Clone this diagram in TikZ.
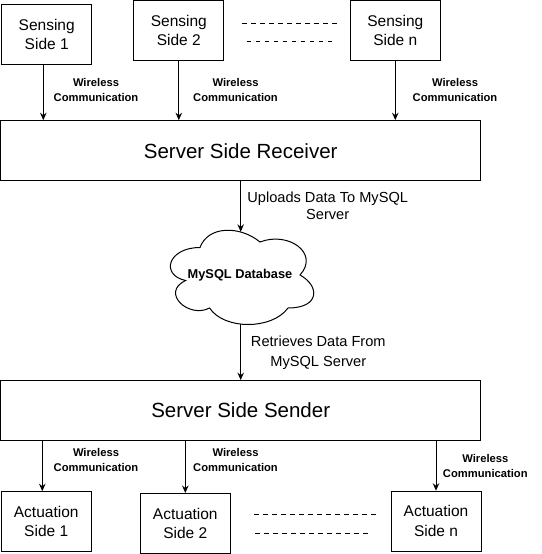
\documentclass[tikz,border=0pt]{standalone}
\usepackage{fontspec}
\setmainfont{Liberation Sans}
\usetikzlibrary{arrows.meta}

\begin{document}
\begin{tikzpicture}[x=1pt,y=-1pt,
	box/.style={draw,line width=1pt,minimum width=90pt,minimum height=60pt,inner sep=0pt,
		align=center,font=\fontsize{15.5}{19.5}\selectfont},
	bigbox/.style={draw,line width=1pt,minimum width=480pt,minimum height=60pt,inner sep=0pt,
		font=\fontsize{20.5}{24}\selectfont},
	wlabel/.style={align=center,inner sep=0pt,font=\fontsize{11.2}{15}\selectfont\bfseries},
	dlabel/.style={align=center,inner sep=0pt,font=\fontsize{14.6}{17}\selectfont},
	arr/.style={line width=1pt,-{Stealth[length=7.5pt,width=6.5pt,inset=2.5pt]}},
	dots/.style={line width=0.9pt,dash pattern=on 4.5pt off 4.5pt}]
	\useasboundingbox (0,0) rectangle (541,554);
	
	% sensing sides and receiver
	\node[box] (s1) at (46.7,34.3) {Sensing\\Side 1};
	\node[box] (s2) at (178.8,30.7) {Sensing\\Side 2};
	\node[box] (sn) at (395.3,30.7) {Sensing\\Side n};
	\draw[dots] (242.3,23.3) -- (338.3,23.3);
	\draw[dots] (246.7,41.7) -- (333.3,41.7);
	\node[bigbox] (rx) at (240.7,150.7) {Server Side Receiver};
	
	\draw[arr] ([xshift=-3.4pt]s1.south) -- ([xshift=-3.4pt]s1.south |- rx.north);
	\draw[arr] (s2.south) -- (s2.south |- rx.north);
	\draw[arr] (sn.south) -- (sn.south |- rx.north);
	\node[wlabel] (w1) at (96,90) {Wireless\\Communication};
	\node[wlabel] (w2) at (235.5,90) {Wireless\\Communication};
	\node[wlabel] (w3) at (455,90) {Wireless\\Communication};
	
	% database cloud
	\def\cx{160}
	\def\cy{220}
	\def\cw{160}
	\def\ch{110}
	\draw[line width=1pt] ({\cx+.25*\cw},{\cy+.25*\ch})
		.. controls ({\cx+.05*\cw},{\cy+.25*\ch}) and ({\cx},{\cy+.5*\ch}) .. ({\cx+.16*\cw},{\cy+.55*\ch})
		.. controls ({\cx},{\cy+.66*\ch}) and ({\cx+.18*\cw},{\cy+.9*\ch}) .. ({\cx+.31*\cw},{\cy+.8*\ch})
		.. controls ({\cx+.4*\cw},{\cy+\ch}) and ({\cx+.7*\cw},{\cy+\ch}) .. ({\cx+.8*\cw},{\cy+.8*\ch})
		.. controls ({\cx+\cw},{\cy+.8*\ch}) and ({\cx+\cw},{\cy+.6*\ch}) .. ({\cx+.875*\cw},{\cy+.5*\ch})
		.. controls ({\cx+\cw},{\cy+.3*\ch}) and ({\cx+.8*\cw},{\cy+.1*\ch}) .. ({\cx+.625*\cw},{\cy+.2*\ch})
		.. controls ({\cx+.5*\cw},{\cy+.05*\ch}) and ({\cx+.3*\cw},{\cy+.05*\ch}) .. ({\cx+.25*\cw},{\cy+.25*\ch})
		-- cycle;
	\node[inner sep=0pt,font=\fontsize{12.8}{15}\selectfont\bfseries] (db) at (240,275) {MySQL Database};
	\coordinate (dbtop) at (240.7,231.8);
	\coordinate (dbbot) at (240.7,324.4);
	
	\node[bigbox] (tx) at (240.7,410.6) {Server Side Sender};
	\draw[arr] (rx.south) -- (dbtop);
	\draw[arr] (dbbot) -- (dbbot |- tx.north);
	\node[dlabel] (up) at (327.7,205.3) {Uploads Data To MySQL\\Server};
	\node[dlabel,font=\fontsize{14.6}{20}\selectfont] (down) at (318.3,353) {Retrieves Data From\\MySQL Server};
	
	% actuation sides
	\node[box] (a1) at (46.2,521.7) {Actuation\\Side 1};
	\node[box] (a2) at (185.3,523.5) {Actuation\\Side 2};
	\node[box] (an) at (436,521.2) {Actuation\\Side n};
	\draw[dots] (254,514.7) -- (377,514.7);
	\draw[dots] (255,533.3) -- (369,533.3);
	
	\draw[arr] ([xshift=-3.9pt]a1.north |- tx.south) -- ([xshift=-3.9pt]a1.north);
	\draw[arr] (a2.north |- tx.south) -- (a2.north);
	\draw[arr] (an.north |- tx.south) -- (an.north);
	\node[wlabel] (w4) at (96,460.2) {Wireless\\Communication};
	\node[wlabel] (w5) at (235.5,460.2) {Wireless\\Communication};
	\node[wlabel] (w6) at (485.3,465.5) {Wireless\\Communication};
\end{tikzpicture}
\end{document}
